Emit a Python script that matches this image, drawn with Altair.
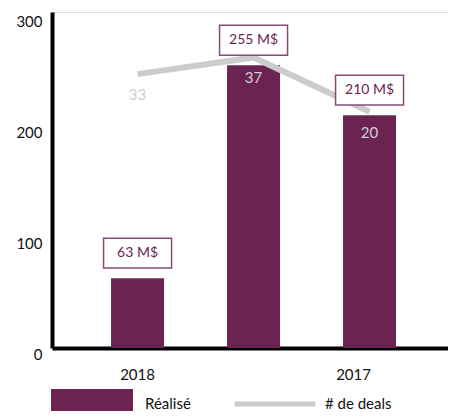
import altair as alt
import pandas as pd

categories = ["2018", " ", "2017"]
realise = [63, 255, 210]
realise_labels = ["63 M$", "255 M$", "210 M$"]
deals = [33, 37, 20]
deals_line = [247, 262, 213]
series = ["Réalisé", "# de deals"]
y_ticks = [0, 100, 200, 300]

df = pd.DataFrame({
    "cat": categories,
    "realise": realise,
    "lab": realise_labels,
    "deals": deals,
    "deals_line": deals_line,
    "s_bar": [series[0]] * len(categories),
    "s_line": [series[1]] * len(categories),
})

PURPLE = "#6b2452"
GREY = "#cccccc"
FONT = "Lato"

base = alt.Chart(df)

x = alt.X(
    "cat:N", sort=categories, title=None,
    scale=alt.Scale(paddingInner=0.543, paddingOuter=0.4785, align=0.532),
    axis=alt.Axis(
        labelAngle=0, ticks=False, domainColor="black", domainWidth=4,
        labelPadding=19, labelFontSize=15, labelColor="#111",
        labelOffset={"condition": {"test": "datum.value == '2017'", "value": -16}, "value": 0},
    ),
)
y_scale = alt.Scale(domain=[0, 303], nice=False)
y = alt.Y(
    "realise:Q", scale=y_scale, title=None,
    axis=alt.Axis(
        values=y_ticks, grid=False, ticks=False, domainWidth=4, domainColor="black",
        labelPadding=10, labelFontSize=15, labelColor="#111", labelOffset=6,
    ),
)

bars = base.mark_bar().encode(
    x=x, y=y,
    fill=alt.Fill(
        "s_bar:N",
        scale=alt.Scale(domain=[series[0]], range=[PURPLE]),
        legend=alt.Legend(
            title=None, orient="none", legendX=-1, legendY=351,
            symbolType="M-1,-0.366H1V0.366H-1Z", symbolSize=6724,
            symbolStrokeWidth=0, labelFontSize=15, labelOffset=12,
            labelColor="#111", padding=0,
        ),
    ),
)

line = base.mark_line(strokeWidth=6, strokeCap="butt").encode(
    x=x,
    y=alt.Y("deals_line:Q", scale=y_scale, title=None),
    stroke=alt.Stroke(
        "s_line:N",
        scale=alt.Scale(domain=[series[1]], range=[GREY]),
        legend=alt.Legend(
            title=None, orient="none", legendX=180, legendY=349,
            symbolType="stroke", symbolSize=6561, symbolStrokeWidth=5,
            labelFontSize=15, labelOffset=7, labelColor="#111", padding=0,
        ),
    ),
)

boxes = base.mark_point(
    shape="M-1,-0.44H1V0.44H-1Z", size=4624, filled=True, fill="white",
    stroke="#8a4a78", strokeWidth=1.5, opacity=1, yOffset=-25,
).encode(x=x, y=alt.Y("realise:Q", scale=y_scale, title=None))

box_text = base.mark_text(dy=-25, fontSize=14, color=PURPLE, font=FONT).encode(
    x=x, y=alt.Y("realise:Q", scale=y_scale, title=None), text="lab:N"
)

deal_text = base.mark_text(dy=21, fontSize=15, color="#d0d0d0", font=FONT).encode(
    x=x, y=alt.Y("deals_line:Q", scale=y_scale, title=None), text="deals:Q"
)

chart = alt.layer(bars, line, boxes, box_text, deal_text).properties(
    width=396, height=336,
    autosize=alt.AutoSizeParams(type="none"),
    padding={"left": 44, "top": 4, "right": 0, "bottom": 63},
).configure_view(stroke=None).configure(font=FONT)

chart.save("out.html", embed_options={"renderer": "svg", "actions": False})
